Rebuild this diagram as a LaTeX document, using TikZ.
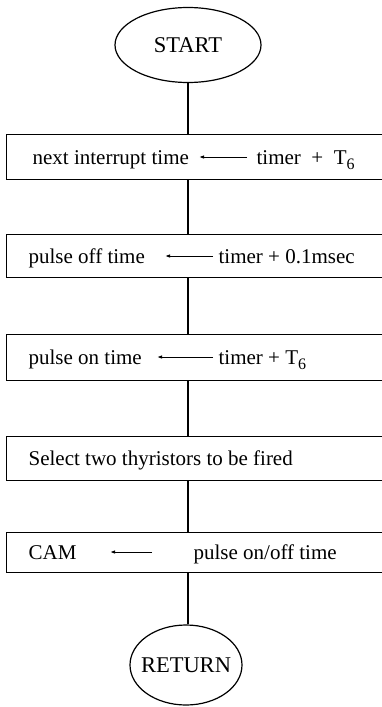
\documentclass[tikz,border=0pt]{standalone}
\usepackage{fontspec}
\setmainfont{Liberation Serif}
\usetikzlibrary{arrows.meta,shapes.geometric}
\newcommand{\tsix}{T\raisebox{-0.28em}{\fontsize{16}{18}\selectfont 6}}
\begin{document}
\begin{tikzpicture}[x=1pt,y=-1pt,
  line width=1.2pt,
  term/.style={draw,ellipse,inner sep=0pt,font=\fontsize{22.5}{26}\selectfont},
  boxarea/.style={rectangle,draw=none,inner sep=0pt},
  txt/.style={anchor=base west,inner sep=0pt,font=\fontsize{21}{24}\selectfont},
  asg/.style={-{Latex[length=5pt,width=3.5pt]},line width=1pt},
  side/.style={line width=1.3pt}]
\useasboundingbox (0,0) rectangle (381,707);
% terminals
\node[term,minimum width=146pt,minimum height=75pt] (start) at (188,45) {START};
\node[term,inner xsep=-6pt,minimum width=112pt,minimum height=80pt] (ret) at (186,665) {RETURN};
% box areas
\node[boxarea,minimum width=375pt,minimum height=44pt] (b1) at (194.5,157) {};
\node[boxarea,minimum width=375pt,minimum height=42pt] (b2) at (194.5,256) {};
\node[boxarea,minimum width=375pt,minimum height=45pt] (b3) at (194.5,357.5) {};
\node[boxarea,minimum width=375pt,minimum height=43pt] (b4) at (194.5,458.5) {};
\node[boxarea,minimum width=375pt,minimum height=39pt] (b5) at (194.5,552.5) {};
\foreach \b in {b1,b2,b3,b4,b5}{
  \draw[side] (\b.north east) -- (\b.north west) -- (\b.south west) -- (\b.south east);
}
% texts
\node[txt] (l1) at (32,164) {next interrupt time};
\node[txt] (r1) at (256,164) {timer\ \ +\ \ \tsix};
\coordinate (a1h) at (199,157); \coordinate (a1t) at (247,157);
\node[txt] (l2) at (28,263) {pulse off time};
\node[txt] (r2) at (218,263) {timer + 0.1msec};
\coordinate (a2h) at (165,256); \coordinate (a2t) at (213,256);
\node[txt] (l3) at (28,364) {pulse on time};
\node[txt] (r3) at (218,364) {timer + \tsix};
\coordinate (a3h) at (157,357); \coordinate (a3t) at (213,357);
\node[txt] (l4) at (28,465) {Select two thyristors to be fired};
\node[txt] (l5) at (28,559) {CAM};
\node[txt] (r5) at (193,559) {pulse on/off time};
\coordinate (a5h) at (110,552); \coordinate (a5t) at (152,552);
\draw[asg] (a1t) -- (a1h);
\draw[asg] (a2t) -- (a2h);
\draw[asg] (a3t) -- (a3h);
\draw[asg] (a5t) -- (a5h);
% connectors
\draw (start.south) -- (start.south |- b1.north);
\draw (start.south |- b1.south) -- (start.south |- b2.north);
\draw (start.south |- b2.south) -- (start.south |- b3.north);
\draw (start.south |- b3.south) -- (start.south |- b4.north);
\draw (start.south |- b4.south) -- (start.south |- b5.north);
\draw (start.south |- b5.south) -- (start.south |- ret.north);
\end{tikzpicture}
\end{document}
